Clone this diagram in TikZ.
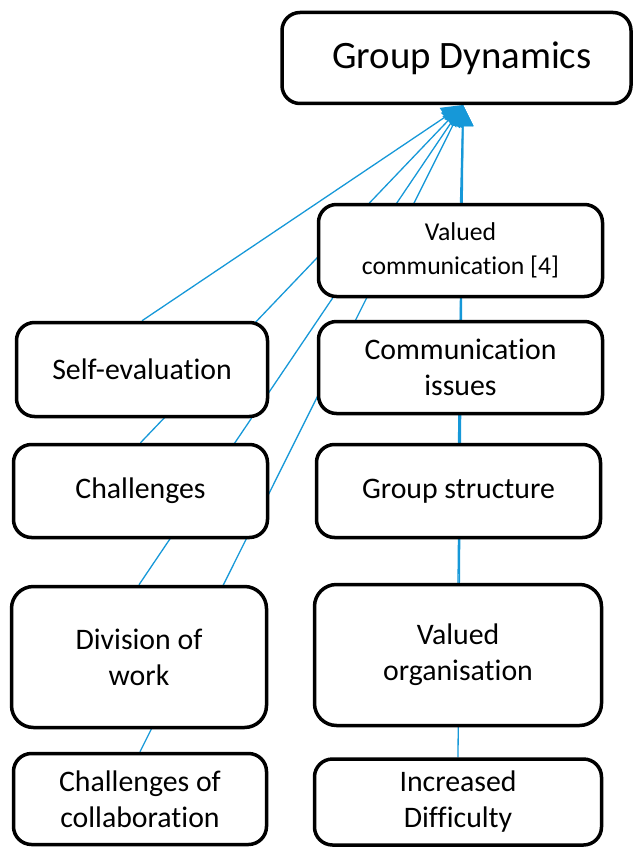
\documentclass[tikz,border=0pt]{standalone}
\usepackage{fontspec}
\setmainfont{Carlito}[RawFeature=-liga]
\usetikzlibrary{arrows.meta,backgrounds}
\definecolor{linkblue}{RGB}{22,152,216}
\begin{document}
\begin{tikzpicture}[x=1pt,y=-1pt,
  box/.style={draw=black, line width=3.5pt, rounded corners=18pt, fill=white,
    align=center, inner sep=0pt, font=\fontsize{29.8}{36}\selectfont},
  link/.style={draw=linkblue, line width=1.3pt,
    -{Triangle[length=21pt,width=21pt]}}]
\useasboundingbox (0,0) rectangle (636,848);
\coordinate (hub) at (463,105);
% top
\node[box, minimum width=349pt, minimum height=91pt, font=\fontsize{38.8}{46}\selectfont] (gd) at (456.5,58) {\hspace*{11pt}Group Dynamics};
% right column
\node[box, minimum width=284pt, minimum height=92pt, font=\fontsize{25.7}{34}\selectfont] (vc) at (460.5,250.5) {Valued\\communication [4]};
\node[box, minimum width=284pt, minimum height=92pt] (ci) at (460.5,367.5) {Communication\\issues};
\node[box, minimum width=284pt, minimum height=93pt] (gs) at (458.5,491) {Group structure};
\node[box, minimum width=287pt, minimum height=141pt, rounded corners=22pt] (vo) at (458,655) {Valued\\organisation};
\node[box, minimum width=287pt, minimum height=86pt] (id) at (458,802) {Increased\\Difficulty};
% left column
\node[box, minimum width=251pt, minimum height=94pt] (se) at (142,369.5) {Self-evaluation};
\node[box, minimum width=254pt, minimum height=93pt] (ch) at (140.5,491) {Challenges};
\node[box, minimum width=255pt, minimum height=141pt, rounded corners=22pt] (dw) at (139,657) {Division of\\work};
\node[box, minimum width=253pt, minimum height=91pt] (cc) at (140,799) {Challenges of\\collaboration};
% connectors
\begin{scope}[on background layer]
\foreach \n in {vc,ci,gs,vo,id,se,ch,dw,cc}
  \draw[link] (\n.north) -- (hub);
\end{scope}
\end{tikzpicture}
\end{document}
